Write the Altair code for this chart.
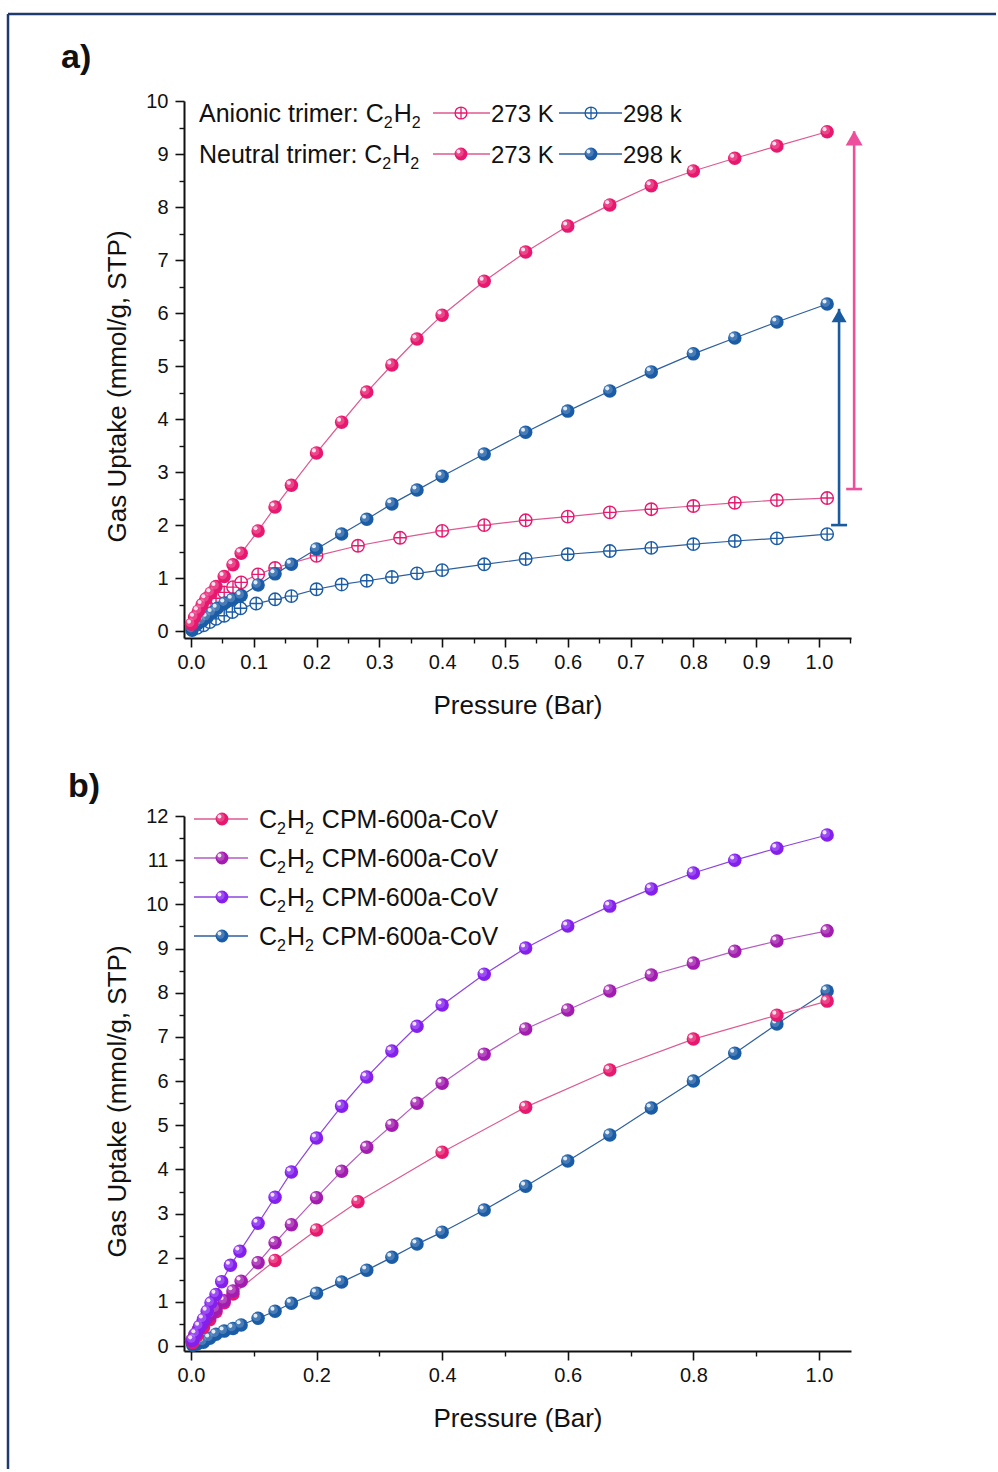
import altair as alt
import pandas as pd

# ---------------- data ----------------
# Panel a — Anionic / Neutral trimer, C2H2
a_neu273_p = [0.001, 0.006, 0.012, 0.018, 0.024, 0.032, 0.040, 0.053, 0.067, 0.080, 0.107, 0.134, 0.160,
              0.200, 0.240, 0.280, 0.320, 0.360, 0.400, 0.467, 0.533, 0.600, 0.667, 0.733, 0.800, 0.866, 0.933, 1.013]
a_neu273_u = [0.13, 0.26, 0.38, 0.50, 0.61, 0.72, 0.84, 1.03, 1.25, 1.47, 1.89, 2.34, 2.75,
              3.36, 3.94, 4.51, 5.02, 5.51, 5.96, 6.60, 7.15, 7.64, 8.04, 8.40, 8.68, 8.92, 9.15, 9.42]

a_neu298_p = [0.002, 0.010, 0.018, 0.026, 0.034, 0.042, 0.054, 0.066, 0.080, 0.107, 0.134, 0.160, 0.200,
              0.240, 0.280, 0.320, 0.360, 0.400, 0.467, 0.533, 0.600, 0.667, 0.733, 0.800, 0.866, 0.933, 1.013]
a_neu298_u = [0.03, 0.13, 0.19, 0.26, 0.35, 0.43, 0.53, 0.60, 0.67, 0.87, 1.08, 1.26, 1.55,
              1.83, 2.11, 2.40, 2.66, 2.92, 3.34, 3.75, 4.15, 4.53, 4.89, 5.23, 5.53, 5.83, 6.17]

a_ani273_p = [0.002, 0.008, 0.016, 0.024, 0.032, 0.040, 0.053, 0.067, 0.080, 0.107, 0.134, 0.200,
              0.266, 0.333, 0.400, 0.467, 0.533, 0.600, 0.667, 0.733, 0.800, 0.866, 0.933, 1.013]
a_ani273_u = [0.08, 0.22, 0.34, 0.45, 0.54, 0.62, 0.73, 0.83, 0.92, 1.07, 1.19, 1.42,
              1.61, 1.76, 1.89, 2.00, 2.09, 2.16, 2.24, 2.30, 2.36, 2.42, 2.47, 2.51]

a_ani298_p = [0.002, 0.010, 0.020, 0.030, 0.040, 0.053, 0.066, 0.079, 0.104, 0.134, 0.160, 0.200, 0.240,
              0.280, 0.320, 0.360, 0.400, 0.467, 0.533, 0.600, 0.667, 0.733, 0.800, 0.866, 0.933, 1.013]
a_ani298_u = [0.02, 0.06, 0.11, 0.17, 0.23, 0.29, 0.36, 0.43, 0.52, 0.60, 0.66, 0.79, 0.88,
              0.95, 1.02, 1.09, 1.15, 1.26, 1.36, 1.45, 1.51, 1.57, 1.64, 1.70, 1.75, 1.83]

# arrows in panel a (pink, blue): x position, start value, arrow tip value
arrow_x = [1.056, 1.032]
arrow_from = [2.68, 2.00]
arrow_to = [9.43, 6.08]

# Panel b — four C2H2 CPM-600a-CoV isotherms
b_pink_p = [0.003, 0.010, 0.020, 0.030, 0.040, 0.053, 0.067, 0.134, 0.200, 0.266, 0.400, 0.533, 0.667,
            0.800, 0.933, 1.013]
b_pink_u = [0.08, 0.24, 0.42, 0.60, 0.78, 0.98, 1.18, 1.94, 2.63, 3.27, 4.39, 5.41, 6.25,
            6.95, 7.49, 7.81]

b_mag_p = a_neu273_p
b_mag_u = [0.13, 0.26, 0.38, 0.50, 0.61, 0.72, 0.84, 1.03, 1.25, 1.47, 1.89, 2.34, 2.75,
           3.36, 3.96, 4.50, 5.00, 5.50, 5.95, 6.61, 7.18, 7.61, 8.04, 8.40, 8.67, 8.94, 9.17, 9.40]

b_vio_p = [0.003, 0.008, 0.014, 0.020, 0.026, 0.032, 0.040, 0.049, 0.063, 0.078, 0.107, 0.134, 0.160,
           0.200, 0.240, 0.280, 0.320, 0.360, 0.400, 0.467, 0.533, 0.600, 0.667, 0.733, 0.800, 0.866, 0.933, 1.013]
b_vio_u = [0.14, 0.28, 0.45, 0.61, 0.79, 0.98, 1.17, 1.46, 1.83, 2.15, 2.78, 3.37, 3.94,
           4.71, 5.43, 6.09, 6.68, 7.24, 7.72, 8.42, 9.01, 9.51, 9.96, 10.35, 10.71, 11.00, 11.27, 11.57]

b_blue_p = [0.003, 0.010, 0.020, 0.030, 0.040, 0.053, 0.067, 0.080, 0.107, 0.134, 0.160, 0.200, 0.240,
            0.280, 0.320, 0.360, 0.400, 0.467, 0.533, 0.600, 0.667, 0.733, 0.800, 0.866, 0.933, 1.013]
b_blue_u = [0.02, 0.05, 0.09, 0.18, 0.27, 0.34, 0.40, 0.48, 0.63, 0.79, 0.97, 1.20, 1.45,
            1.72, 2.01, 2.31, 2.58, 3.08, 3.62, 4.19, 4.78, 5.39, 6.00, 6.63, 7.29, 8.04]

# text (segments: (text, is_subscript))
legend_a_rows = [
    [("Anionic trimer: C", False), ("2", True), ("H", False), ("2", True)],
    [("Neutral trimer: C", False), ("2", True), ("H", False), ("2", True)],
]
legend_a_temps = ["273 K", "298 k"]
legend_b_label = [("C", False), ("2", True), ("H", False), ("2", True), (" CPM-600a-CoV", False)]
legend_b_rows = [legend_b_label, legend_b_label, legend_b_label, legend_b_label]
x_title = "Pressure (Bar)"
y_title = "Gas Uptake (mmol/g, STP)"
a_x_ticks = [0.0, 0.1, 0.2, 0.3, 0.4, 0.5, 0.6, 0.7, 0.8, 0.9, 1.0]
a_x_minor = [0.05, 0.15, 0.25, 0.35, 0.45, 0.55, 0.65, 0.75, 0.85, 0.95, 1.05]
a_y_ticks = list(range(0, 11))
a_y_minor = [0.5 + i for i in range(10)]
b_x_ticks = [0.0, 0.2, 0.4, 0.6, 0.8, 1.0]
b_x_minor = [0.1, 0.3, 0.5, 0.7, 0.9]
b_y_ticks = list(range(0, 13))
b_y_minor = [0.5 + i for i in range(12)]

# ---------------- styling ----------------
FONT = "Liberation Sans"
BLACK = "#111111"
PINK = "#E8186E"
PINK_LINE = "#DC5A92"
BLUE = "#1B5CA6"
BLUE_LINE = "#2E5F9C"
MAGENTA = "#A21CB0"
MAGENTA_LINE = "#B45DC0"
VIOLET = "#8420EE"
VIOLET_LINE = "#8E45DE"
ARROW_PINK = "#EE4F9C"
ARROW_BLUE = "#1A5B9F"
BORDER = "#1F3A6E"
CROSS_CIRCLE = "M-1,0A1,1,0,1,1,1,0A1,1,0,1,1,-1,0Z M-1,0L1,0 M0,-1L0,1"
BALL = 182
CROSS = 156
LEG_SIZE = 25
SUB_SIZE = 16
SUB_DROP = 6

# Arial / Liberation Sans advance widths (per 1000 em) for the legend glyphs
ADV = {' ': 278, 'A': 667, 'B': 667, 'C': 722, 'H': 722, 'K': 667, 'M': 833, 'N': 722, 'P': 667,
       'V': 667, 'a': 556, 'c': 500, 'e': 556, 'i': 222, 'k': 500, 'l': 222, 'm': 833, 'n': 556,
       'o': 556, 'r': 333, 't': 278, 'u': 556, ':': 278, '-': 333}


def text_width(s, size):
    return sum(ADV.get(ch, 556) for ch in s) * size / 1000.0


PW, PHA, PHB = 667, 537, 535
xa = alt.Scale(domain=[-0.011, 1.051], nice=False, zero=False)
ya = alt.Scale(domain=[-0.13, 10], nice=False, zero=False)
xb = alt.Scale(domain=[-0.011, 1.051], nice=False, zero=False)
yb = alt.Scale(domain=[-0.11, 12], nice=False, zero=False)


def major_x(values, fmt):
    return alt.Axis(values=values, format=fmt, orient="bottom", grid=False, domain=True,
                    domainColor=BLACK, domainWidth=2, ticks=True, tickColor=BLACK, tickWidth=1.6,
                    tickSize=9, labelFont=FONT, labelFontSize=20, labelColor=BLACK, labelPadding=5,
                    labelFlush=False, labelOverlap=False,
                    title=x_title, titleFont=FONT, titleFontSize=26, titleFontWeight="normal",
                    titleColor=BLACK, titleY=75, titleBaseline="alphabetic")


def major_y(values):
    return alt.Axis(values=values, format="d", orient="left", grid=False, domain=True,
                    domainColor=BLACK, domainWidth=2, ticks=True, tickColor=BLACK, tickWidth=1.6,
                    tickSize=9, labelFont=FONT, labelFontSize=20, labelColor=BLACK, labelPadding=7,
                    labelFlush=False, labelOverlap=False,
                    title=y_title, titleFont=FONT, titleFontSize=26, titleFontWeight="normal",
                    titleColor=BLACK, titleX=-59, titleY=285, titleBaseline="alphabetic", titleAngle=270)


def minor(values, orient):
    return alt.Axis(values=values, orient=orient, labels=False, grid=False, domain=False,
                    ticks=True, tickColor=BLACK, tickWidth=1.4, tickSize=5, title=None)


def enc(ch, xs, ys, xaxis=None, yaxis=None):
    return ch.encode(x=alt.X("p:Q", scale=xs, axis=xaxis),
                     y=alt.Y("u:Q", scale=ys, axis=yaxis))


def line_layer(p, u, xs, ys, color, xaxis=None, yaxis=None):
    df = pd.DataFrame({"p": p, "u": u})
    return enc(alt.Chart(df).mark_line(color=color, strokeWidth=1.2), xs, ys, xaxis, yaxis)


def ball_layers(p, u, xs, ys, color, xaxis=None, yaxis=None):
    df = pd.DataFrame({"p": p, "u": u})
    base = alt.Chart(df)
    return [
        enc(base.mark_circle(size=BALL, color=color, opacity=1), xs, ys, xaxis, yaxis),
        enc(base.mark_circle(size=BALL * 0.42, color="white", opacity=0.2, xOffset=-1.5, yOffset=-1.5), xs, ys),
        enc(base.mark_circle(size=BALL * 0.09, color="white", opacity=0.85, xOffset=-2.6, yOffset=-2.6), xs, ys),
    ]


def cross_layer(p, u, xs, ys, color, xaxis=None, yaxis=None):
    df = pd.DataFrame({"p": p, "u": u})
    return enc(alt.Chart(df).mark_point(shape=CROSS_CIRCLE, size=CROSS, fill="white", fillOpacity=1,
                                        stroke=color, strokeWidth=1.4, opacity=1), xs, ys, xaxis, yaxis)


one = pd.DataFrame({"k": [0]})


def txt(text, x, y, size=LEG_SIZE, weight="normal"):
    return alt.Chart(one).mark_text(text=text, font=FONT, fontSize=size, fontWeight=weight, color=BLACK,
                                    align="left", baseline="alphabetic").encode(x=alt.value(x), y=alt.value(y))


def rich(segments, x, y):
    out = []
    cx = x
    for s, sub in segments:
        size = SUB_SIZE if sub else LEG_SIZE
        lead = len(s) - len(s.lstrip(" "))
        cx += text_width(" " * lead, size)
        s = s.lstrip(" ")
        out.append(txt(s, cx, y + (SUB_DROP if sub else 0), size=size))
        cx += text_width(s, size) + (1 if sub else 0)
    return out


def hline(x1, x2, y, color):
    return alt.Chart(one).mark_rule(color=color, strokeWidth=1.3).encode(
        x=alt.value(x1), x2=alt.value(x2), y=alt.value(y))


def leg_ball(x, y, color):
    return [
        alt.Chart(one).mark_circle(size=BALL * 0.9, color=color, opacity=1).encode(x=alt.value(x), y=alt.value(y)),
        alt.Chart(one).mark_circle(size=BALL * 0.38, color="white", opacity=0.2).encode(
            x=alt.value(x - 1.5), y=alt.value(y - 1.5)),
        alt.Chart(one).mark_circle(size=BALL * 0.08, color="white", opacity=0.85).encode(
            x=alt.value(x - 2.5), y=alt.value(y - 2.5)),
    ]


def leg_cross(x, y, color):
    return alt.Chart(one).mark_point(shape=CROSS_CIRCLE, size=CROSS * 0.9, fill="white", fillOpacity=1,
                                     stroke=color, strokeWidth=1.3, opacity=1).encode(x=alt.value(x), y=alt.value(y))


# ---------------- panel a ----------------
layers_a = []
# figure border (top and left edges, decoration)
layers_a.append(alt.Chart(one).mark_rule(color=BORDER, strokeWidth=2.5).encode(
    x=alt.value(-176), x2=alt.value(812), y=alt.value(-87)))
layers_a.append(alt.Chart(one).mark_rule(color=BORDER, strokeWidth=2.5).encode(
    x=alt.value(-176), y=alt.value(-87), y2=alt.value(1368)))
layers_a.append(line_layer(a_ani298_p, a_ani298_u, xa, ya, BLUE_LINE,
                           major_x(a_x_ticks, ".1f"), major_y(a_y_ticks)))
layers_a.append(cross_layer(a_ani298_p, a_ani298_u, xa, ya, BLUE,
                            minor(a_x_minor, "bottom"), minor(a_y_minor, "left")))
layers_a.append(line_layer(a_ani273_p, a_ani273_u, xa, ya, PINK_LINE))
layers_a.append(cross_layer(a_ani273_p, a_ani273_u, xa, ya, PINK))
layers_a.append(line_layer(a_neu298_p, a_neu298_u, xa, ya, BLUE_LINE))
layers_a += ball_layers(a_neu298_p, a_neu298_u, xa, ya, BLUE)
layers_a.append(line_layer(a_neu273_p, a_neu273_u, xa, ya, PINK_LINE))
layers_a += ball_layers(a_neu273_p, a_neu273_u, xa, ya, PINK)

# arrows
arrows = pd.DataFrame({"p": arrow_x, "u": arrow_from, "u2": arrow_to, "c": ["pink", "blue"]})
acol = alt.Scale(domain=["pink", "blue"], range=[ARROW_PINK, ARROW_BLUE])
layers_a.append(alt.Chart(arrows).mark_rule(strokeWidth=2.6).encode(
    x=alt.X("p:Q", scale=xa, axis=None), y=alt.Y("u:Q", scale=ya, axis=None), y2="u2:Q",
    color=alt.Color("c:N", scale=acol, legend=None)))
layers_a.append(alt.Chart(arrows).mark_tick(orient="horizontal", size=16, thickness=2.6, opacity=1).encode(
    x=alt.X("p:Q", scale=xa, axis=None), y=alt.Y("u:Q", scale=ya, axis=None),
    color=alt.Color("c:N", scale=acol, legend=None)))
tri = pd.DataFrame({"p": arrow_x, "u": arrow_to, "c": ["pink", "blue"], "s": [289, 225]})
layers_a.append(alt.Chart(tri).mark_point(shape="triangle-up", filled=True, opacity=1, yOffset=7).encode(
    x=alt.X("p:Q", scale=xa, axis=None), y=alt.Y("u:Q", scale=ya, axis=None),
    color=alt.Color("c:N", scale=acol, legend=None),
    size=alt.Size("s:Q", scale=None, legend=None)))

# legend a
for r, segs in enumerate(legend_a_rows):
    ym = 12 + 41 * r
    layers_a += rich(segs, 15, ym + 9)
    layers_a.append(hline(249, 306, ym, PINK_LINE))
    layers_a.append(hline(375, 438, ym, BLUE_LINE))
    if r == 0:
        layers_a.append(leg_cross(277, ym, PINK))
        layers_a.append(leg_cross(407, ym, BLUE))
    else:
        layers_a += leg_ball(277, ym, PINK)
        layers_a += leg_ball(407, ym, BLUE)
    layers_a.append(txt(legend_a_temps[0], 307, ym + 9, size=24))
    layers_a.append(txt(legend_a_temps[1], 439, ym + 9, size=24))
layers_a.append(txt("a)", -123, -33, size=34, weight="bold"))

panel_a = alt.layer(*layers_a).resolve_axis(x="independent", y="independent").properties(width=PW, height=PHA)

# ---------------- panel b ----------------
layers_b = []
layers_b.append(line_layer(b_blue_p, b_blue_u, xb, yb, BLUE_LINE,
                           major_x(b_x_ticks, ".1f"), major_y(b_y_ticks)))
layers_b += ball_layers(b_blue_p, b_blue_u, xb, yb, BLUE,
                        minor(b_x_minor, "bottom"), minor(b_y_minor, "left"))
layers_b.append(line_layer(b_pink_p, b_pink_u, xb, yb, PINK_LINE))
layers_b += ball_layers(b_pink_p, b_pink_u, xb, yb, PINK)
layers_b.append(line_layer(b_mag_p, b_mag_u, xb, yb, MAGENTA_LINE))
layers_b += ball_layers(b_mag_p, b_mag_u, xb, yb, MAGENTA)
layers_b.append(line_layer(b_vio_p, b_vio_u, xb, yb, VIOLET_LINE))
layers_b += ball_layers(b_vio_p, b_vio_u, xb, yb, VIOLET)

b_cols = [(PINK, PINK_LINE), (MAGENTA, MAGENTA_LINE), (VIOLET, VIOLET_LINE), (BLUE, BLUE_LINE)]
for r, segs in enumerate(legend_b_rows):
    ym = 3 + 39 * r
    layers_b.append(hline(10, 64, ym, b_cols[r][1]))
    layers_b += leg_ball(38, ym, b_cols[r][0])
    layers_b += rich(segs, 75, ym + 9)
layers_b.append(txt("b)", -116, -19, size=34, weight="bold"))

panel_b = alt.layer(*layers_b).resolve_axis(x="independent", y="independent").properties(width=PW, height=PHB)

chart = alt.vconcat(panel_a, panel_b, spacing=178, bounds="flush").properties(
    padding={"left": 6, "top": 12, "right": 0, "bottom": 0},
    background="white",
).configure_view(strokeWidth=0)

chart.save("out.html", embed_options={"renderer": "svg", "actions": False})
